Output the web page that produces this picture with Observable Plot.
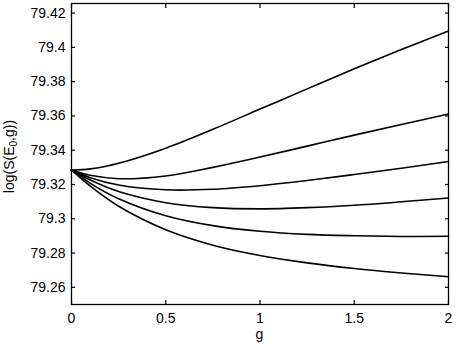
<!DOCTYPE html>
<html>
<head>
<meta charset="utf-8">
<script src="https://cdn.jsdelivr.net/npm/d3@7"></script>
<script src="https://cdn.jsdelivr.net/npm/@observablehq/plot@0.6"></script>
<style>
  html, body { margin: 0; padding: 0; background: #fff; }
  svg { font-family: "Liberation Sans", Arial, sans-serif; }
</style>
</head>
<body>
<div id="chart"></div>
<script>
const gValues = [0, 0.1, 0.25, 0.5, 0.75, 1, 1.25, 1.5, 1.75, 2];
const curve1 = [79.3285, 79.3291, 79.3324, 79.3412, 79.3522, 79.3640, 79.3758, 79.3875, 79.3987, 79.4095];
const curve2 = [79.3285, 79.3254, 79.3234, 79.3250, 79.3300, 79.3360, 79.3424, 79.3488, 79.3550, 79.3611];
const curve3 = [79.3285, 79.3240, 79.3197, 79.3169, 79.3172, 79.3193, 79.3223, 79.3258, 79.3295, 79.3334];
const curve4 = [79.3285, 79.3226, 79.3159, 79.3094, 79.3065, 79.3058, 79.3065, 79.3079, 79.3099, 79.3121];
const curve5 = [79.3285, 79.3207, 79.3117, 79.3018, 79.2960, 79.2927, 79.2909, 79.2901, 79.2897, 79.2898];
const curve6 = [79.3285, 79.3190, 79.3073, 79.2936, 79.2846, 79.2786, 79.2743, 79.2710, 79.2684, 79.2662];
const xTicks = [0, 0.5, 1, 1.5, 2];
const yTicks = [79.26, 79.28, 79.30, 79.32, 79.34, 79.36, 79.38, 79.40, 79.42];

const series = [curve1, curve2, curve3, curve4, curve5, curve6];
const rows = series.flatMap((vals, i) => vals.map((v, j) => ({series: i, g: gValues[j], v})));

const fmt = d => String(+(+d).toFixed(2));
const blank = () => "";

const chart = Plot.plot({
  width: 457,
  height: 344,
  marginLeft: 71,
  marginRight: 9,
  marginTop: 3,
  marginBottom: 40,
  style: {fontSize: "14px", fontFamily: "'Liberation Sans', Arial, sans-serif", color: "black", background: "white"},
  x: {domain: [0, 2]},
  y: {domain: [79.25, 79.4256]},
  marks: [
    Plot.line(rows, {x: "g", y: "v", z: "series", curve: "catmull-rom", stroke: "black", strokeWidth: 1.6}),
    // tick labels
    Plot.axisX({anchor: "bottom", ticks: xTicks, tickSize: 0, tickPadding: 9, tickFormat: fmt, label: null, fill: "black"}),
    Plot.axisY({anchor: "left", ticks: yTicks, tickSize: 0, tickPadding: 6, tickFormat: fmt, label: null, fill: "black"}),
    // inward ticks on all four sides
    Plot.axisX({anchor: "bottom", ticks: xTicks, tickSize: 4, dy: -4, tickFormat: blank, label: null, stroke: "black", strokeWidth: 1.2}),
    Plot.axisX({anchor: "top", ticks: xTicks, tickSize: 4, dy: 4, tickFormat: blank, label: null, stroke: "black", strokeWidth: 1.2}),
    Plot.axisY({anchor: "left", ticks: yTicks, tickSize: 4, dx: 4, tickFormat: blank, label: null, stroke: "black", strokeWidth: 1.2}),
    Plot.axisY({anchor: "right", ticks: yTicks, tickSize: 4, dx: -4, tickFormat: blank, label: null, stroke: "black", strokeWidth: 1.2}),
    Plot.frame({stroke: "black", strokeWidth: 1.3})
  ]
});

document.getElementById("chart").appendChild(chart);

// axis titles
const svg = d3.select(chart);
svg.append("text")
  .attr("x", 71 + (457 - 9 - 71) / 2)
  .attr("y", 339)
  .attr("text-anchor", "middle")
  .attr("font-size", 14)
  .attr("fill", "black")
  .text("g");

const yl = svg.append("text")
  .attr("transform", `translate(14,${(3 + 304) / 2 + 3}) rotate(-90)`)
  .attr("text-anchor", "middle")
  .attr("font-size", 14)
  .attr("fill", "black");
yl.append("tspan").text("log(S(E");
yl.append("tspan").attr("baseline-shift", "-25%").attr("font-size", 10).text("0");
yl.append("tspan").text(",g))");
</script>
</body>
</html>
